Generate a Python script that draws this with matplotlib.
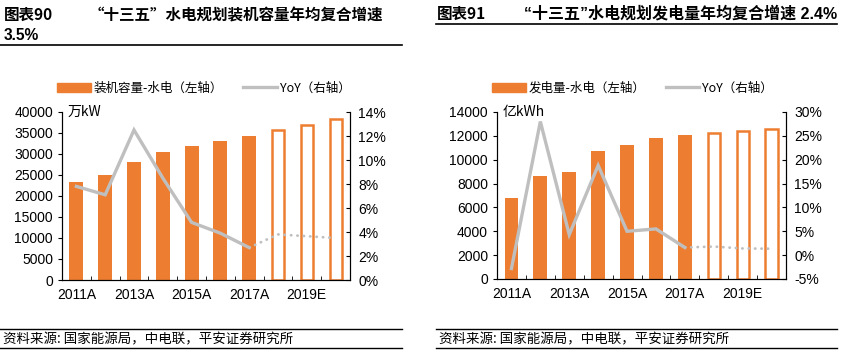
import numpy as np
import matplotlib.pyplot as plt
from matplotlib.lines import Line2D
from matplotlib.patches import Patch

plt.rcParams['font.family'] = ['Liberation Sans', 'Noto Sans CJK SC', 'DejaVu Sans']
CJK = ['Noto Sans CJK SC', 'DejaVu Sans']

years = ['2011A', '2012A', '2013A', '2014A', '2015A', '2016A', '2017A', '2018E', '2019E', '2020E']
n_actual = 7

# chart 90: installed hydro capacity (万kW) and YoY (%)
capacity = [23300, 24900, 28000, 30500, 31950, 33200, 34400, 35600, 36950, 38300]
capacity_yoy = [7.8, 7.1, 12.5, 8.5, 4.8, 3.9, 2.7, 3.8, 3.65, 3.5]

# chart 91: hydro generation (亿kWh) and YoY (%)
generation = [6800, 8650, 9000, 10750, 11230, 11820, 12040, 12270, 12410, 12580]
generation_yoy = [-2.8, 28.0, 4.3, 18.8, 5.0, 5.5, 1.6, 1.8, 1.4, 1.35]

orange = '#ED7D31'
grey = '#BFBFBF'

W, H = 848, 352
fig = plt.figure(figsize=(W / 100, H / 100), dpi=100)


def box(x0, y0, x1, y1):
    return [x0 / W, 1 - y1 / H, (x1 - x0) / W, (y1 - y0) / H]


def hline(x0, x1, y, lw=1.2):
    fig.add_artist(Line2D([x0 / W, x1 / W], [1 - y / H, 1 - y / H], color='black', lw=lw))


def draw_panel(rect, bars, yoy, ymax, ystep, rmin, rmax, rstep, unit, bar_label):
    ax = fig.add_axes(rect)
    x = np.arange(len(years))
    ax.bar(x[:n_actual], bars[:n_actual], width=0.48, color=orange, zorder=2)
    ax.bar(x[n_actual:], bars[n_actual:], width=0.42, facecolor='white',
           edgecolor=orange, linewidth=1.8, zorder=2)
    ax.set_xlim(-0.5, len(years) - 0.5)
    ax.set_ylim(0, ymax)
    ax.set_yticks(np.arange(0, ymax + 1, ystep))
    ax.set_xticks(x[::2])
    ax.set_xticklabels(years[::2], fontsize=10)
    ax.set_xticks(np.arange(0.5, len(years) - 1, 1), minor=True)
    ax.tick_params(axis='x', which='major', length=0, pad=6)
    ax.tick_params(axis='x', which='minor', direction='in', length=3)
    ax.tick_params(axis='y', direction='out', length=3, labelsize=10)
    ax.spines['top'].set_visible(False)
    ax.text(0.02, ymax, unit, fontsize=10, va='center', ha='left',
            family=CJK, transform=ax.get_yaxis_transform())

    ax2 = ax.twinx()
    ax2.plot(x[:n_actual], yoy[:n_actual], color=grey, lw=2.4, zorder=3,
             solid_joinstyle='miter')
    ax2.plot(x[n_actual - 1:], yoy[n_actual - 1:], color=grey, lw=2.0,
             linestyle=(0, (0.1, 2.2)), dash_capstyle='round', zorder=3)
    ax2.set_ylim(rmin, rmax)
    ax2.set_yticks(np.arange(rmin, rmax + 0.1, rstep))
    ax2.set_yticklabels([f'{v:.0f}%' for v in np.arange(rmin, rmax + 0.1, rstep)])
    ax2.tick_params(axis='y', direction='in', length=3, labelsize=10, pad=6)
    ax2.spines['top'].set_visible(False)

    handles = [Patch(color=orange),
               Line2D([0], [0], color=grey, lw=2.4)]
    ax.legend(handles, [bar_label, 'YoY（右轴）'], loc='center left',
              bbox_to_anchor=(-0.018, 1.143), ncol=2, frameon=False,
              prop={'family': CJK, 'size': 9}, handlelength=2.7,
              handleheight=0.75, columnspacing=1.6, handletextpad=0.25,
              borderaxespad=0, borderpad=0)
    return ax


draw_panel(box(62, 112, 350, 280), capacity, capacity_yoy, 40000, 5000,
           0, 14, 2, '万kW', '装机容量-水电（左轴）')
draw_panel(box(497, 112, 786, 279), generation, generation_yoy, 14000, 2000,
           -5, 30, 5, '亿kWh', '发电量-水电（左轴）')

# titles
fig.text(4 / W, 1 - 15 / H, '图表90', fontsize=11.2, fontweight='bold',
         family=CJK, va='center')
fig.text(89 / W, 1 - 15 / H, '“十三五”水电规划装机容量年均复合增速',
         fontsize=11.2, fontweight='bold', family=CJK, va='center')
fig.text(4 / W, 1 - 35 / H, '3.5%', fontsize=11.2, fontweight='bold', va='center')
hline(0, 402, 45)

fig.text(437 / W, 1 - 14 / H, '图表91', fontsize=11.2, fontweight='bold',
         family=CJK, va='center')
fig.text(524 / W, 1 - 14 / H, '“十三五”水电规划发电量年均复合增速 2.4%',
         fontsize=11.5, fontweight='bold', va='center',
         family=['Liberation Sans', 'Noto Sans CJK SC'])
hline(436, 837, 24)

# sources
src = '资料来源: 国家能源局，中电联，平安证券研究所'
for x0, x1 in [(0, 402), (436, 837)]:
    hline(x0, x1, 329, lw=1.0)
    hline(x0, x1, 348, lw=1.0)
    fig.text((x0 + 3) / W, 1 - 339 / H, src, fontsize=9.7, style='italic',
             family=CJK, va='center')

fig.savefig('out.png', dpi=100)
